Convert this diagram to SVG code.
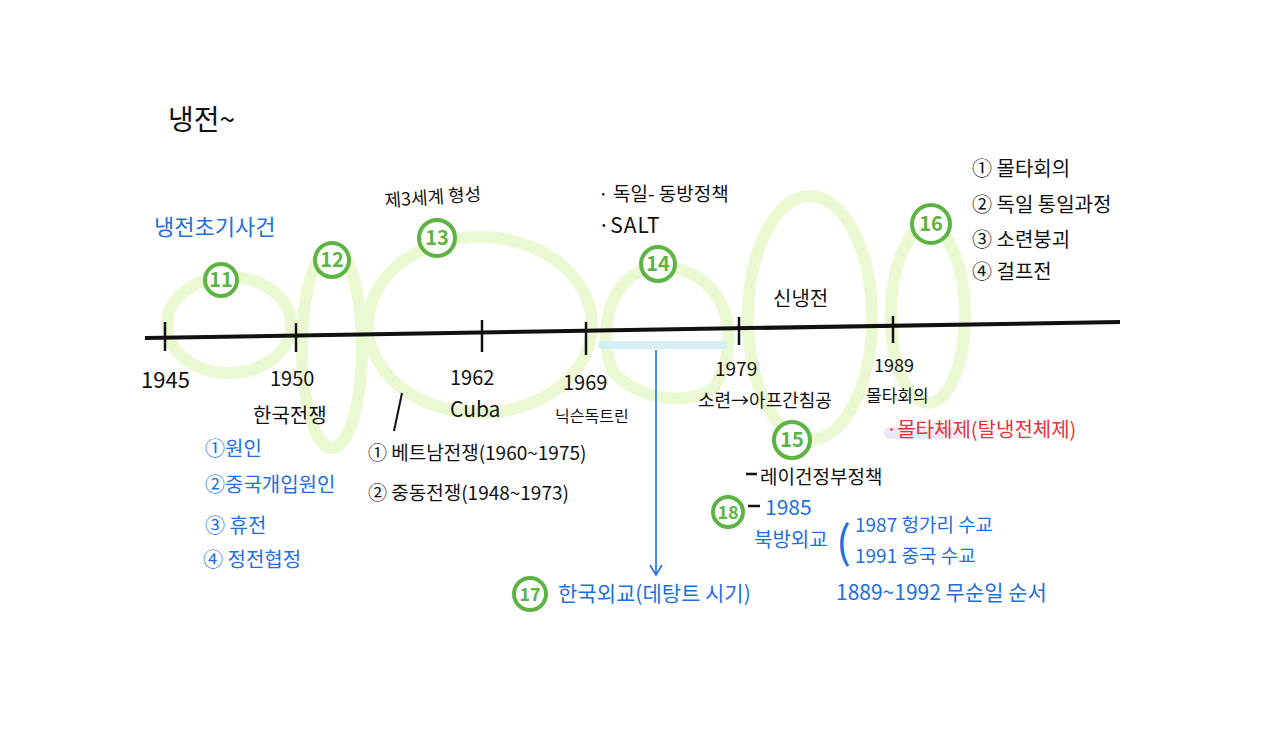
<svg xmlns="http://www.w3.org/2000/svg" width="1275" height="741" viewBox="0 0 1275 741">
<style>
text{font-family:"Noto Sans CJK KR","Noto Sans",sans-serif;}
.k{fill:#111;}
.b{fill:#1d6fe0;}
.r{fill:#e5343a;}
.loop{fill:none;stroke:#ebf9d2;stroke-width:12;stroke-linecap:round;}
.num circle{fill:#fff;stroke:#5db443;stroke-width:4;}
.num text{fill:#5db443;font-weight:700;text-anchor:middle;font-size:20px;}
.tick{stroke:#111;stroke-width:2.5;}
</style>
<defs>
<marker id="ah" markerWidth="14" markerHeight="14" refX="12" refY="7" orient="auto" markerUnits="userSpaceOnUse">
<path d="M2,1 L12,7 L2,13" fill="none" stroke="#1d6fe0" stroke-width="1.6"/>
</marker>
</defs>
<rect width="1275" height="741" fill="#fff"/>

<g id="loops">
<ellipse class="loop" cx="229" cy="325" rx="62" ry="48"/>
<ellipse class="loop" cx="332" cy="348" rx="30" ry="100"/>
<ellipse class="loop" cx="480" cy="325" rx="112" ry="88"/>
<path class="loop" d="M612,370 C598,330 610,290 635,274 C660,260 695,268 714,292 C732,315 734,352 716,385 C700,405 640,405 612,370 Z"/>
<ellipse class="loop" cx="810" cy="318" rx="62" ry="122"/>
<ellipse class="loop" cx="928" cy="315" rx="37" ry="88"/>
<rect x="598" y="341" width="130" height="8" rx="4" fill="#d4f0f6"/>
<rect x="884" y="427" width="76" height="12" rx="5" fill="#efe6f8"/>
</g>

<g id="timeline">
<path d="M145,338 L1120,322" stroke="#111" stroke-width="4" fill="none"/>
<line class="tick" x1="165" y1="322" x2="165" y2="351"/>
<line class="tick" x1="296" y1="323" x2="296" y2="352"/>
<line class="tick" x1="482" y1="320" x2="482" y2="352"/>
<line class="tick" x1="586" y1="322" x2="586" y2="355"/>
<line class="tick" x1="739" y1="317" x2="739" y2="345"/>
<line class="tick" x1="893" y1="316" x2="893" y2="343"/>
<text class="k" x="141" y="388" font-size="22">1945</text>
<text class="k" x="270" y="386" font-size="20">1950</text>
<text class="k" x="450" y="385" font-size="20">1962</text>
<text class="k" x="563" y="390" font-size="20">1969</text>
<text class="k" x="715" y="376" font-size="19">1979</text>
<text class="k" x="874" y="372" font-size="18">1989</text>
</g>

<g id="connectors">
<line x1="656" y1="350" x2="656" y2="575" stroke="#1d6fe0" stroke-width="1.6" marker-end="url(#ah)"/>
<line x1="402" y1="393" x2="394" y2="431" stroke="#111" stroke-width="2"/>
<line x1="746" y1="474" x2="757" y2="474" stroke="#111" stroke-width="2.5"/>
<line x1="748" y1="506" x2="760" y2="506" stroke="#111" stroke-width="2.5"/>
</g>

<g id="title"><text class="k" x="168" y="130" font-size="28">냉전~</text></g>

<g id="n11">
<text class="b" x="154" y="235" font-size="22">냉전초기사건</text>
<g class="num"><circle cx="221" cy="280" r="16"/><text x="221" y="287">11</text></g>
<text class="k" x="253" y="423" font-size="20">한국전쟁</text>
<text class="b" x="205" y="456" font-size="20">①원인</text>
<text class="b" x="205" y="492" font-size="20">②중국개입원인</text>
<text class="b" x="205" y="533" font-size="20">③ 휴전</text>
<text class="b" x="203" y="567" font-size="20">④ 정전협정</text>
</g>

<g id="n12"><g class="num"><circle cx="332" cy="260" r="17"/><text x="332" y="267">12</text></g></g>

<g id="n13">
<text class="k" x="385" y="207" font-size="18" transform="rotate(-4 385 207)">제3세계 형성</text>
<g class="num"><circle cx="437" cy="238" r="18"/><text x="437" y="245">13</text></g>
<text class="k" x="450" y="417" font-size="21">Cuba</text>
<text class="k" x="555" y="422" font-size="16">닉슨독트린</text>
<text class="k" x="368" y="460" font-size="19">① 베트남전쟁(1960~1975)</text>
<text class="k" x="368" y="500" font-size="19">② 중동전쟁(1948~1973)</text>
</g>

<g id="n14">
<text class="k" x="598" y="201" font-size="19">· 독일- 동방정책</text>
<text class="k" x="598" y="233" font-size="21" letter-spacing="1">·SALT</text>
<g class="num"><circle cx="658" cy="264" r="17"/><text x="658" y="271">14</text></g>
</g>

<g id="n15">
<text class="k" x="773" y="306" font-size="20">신냉전</text>
<text class="k" x="698" y="407" font-size="18">소련→아프간침공</text>
<g class="num"><circle cx="792" cy="440" r="18"/><text x="792" y="447">15</text></g>
<text class="k" x="760" y="484" font-size="19">레이건정부정책</text>
</g>

<g id="n16">
<g class="num"><circle cx="931" cy="224" r="19"/><text x="931" y="231">16</text></g>
<text class="k" x="972" y="176" font-size="20">① 몰타회의</text>
<text class="k" x="972" y="212" font-size="20">② 독일 통일과정</text>
<text class="k" x="972" y="247" font-size="20">③ 소련붕괴</text>
<text class="k" x="972" y="279" font-size="20">④ 걸프전</text>
<text class="k" x="866" y="402" font-size="17">몰타회의</text>
<text class="r" x="886" y="437" font-size="20">·몰타체제(탈냉전체제)</text>
</g>

<g id="n17">
<g class="num"><circle cx="530" cy="594" r="16"/><text x="530" y="601" style="font-size:18px">17</text></g>
<text class="b" x="558" y="601" font-size="21">한국외교(데탕트 시기)</text>
</g>

<g id="n18">
<g class="num"><circle cx="728" cy="512" r="15"/><text x="728" y="519" style="font-size:18px">18</text></g>
<text class="b" x="765" y="515" font-size="21">1985</text>
<text class="b" x="754" y="547" font-size="20">북방외교</text>
<text class="b" x="836" y="558" font-size="44">(</text>
<text class="b" x="855" y="532" font-size="19">1987 헝가리 수교</text>
<text class="b" x="855" y="563" font-size="19">1991 중국 수교</text>
<text class="b" x="836" y="600" font-size="21">1889~1992 무순일 순서</text>
</g>
</svg>
